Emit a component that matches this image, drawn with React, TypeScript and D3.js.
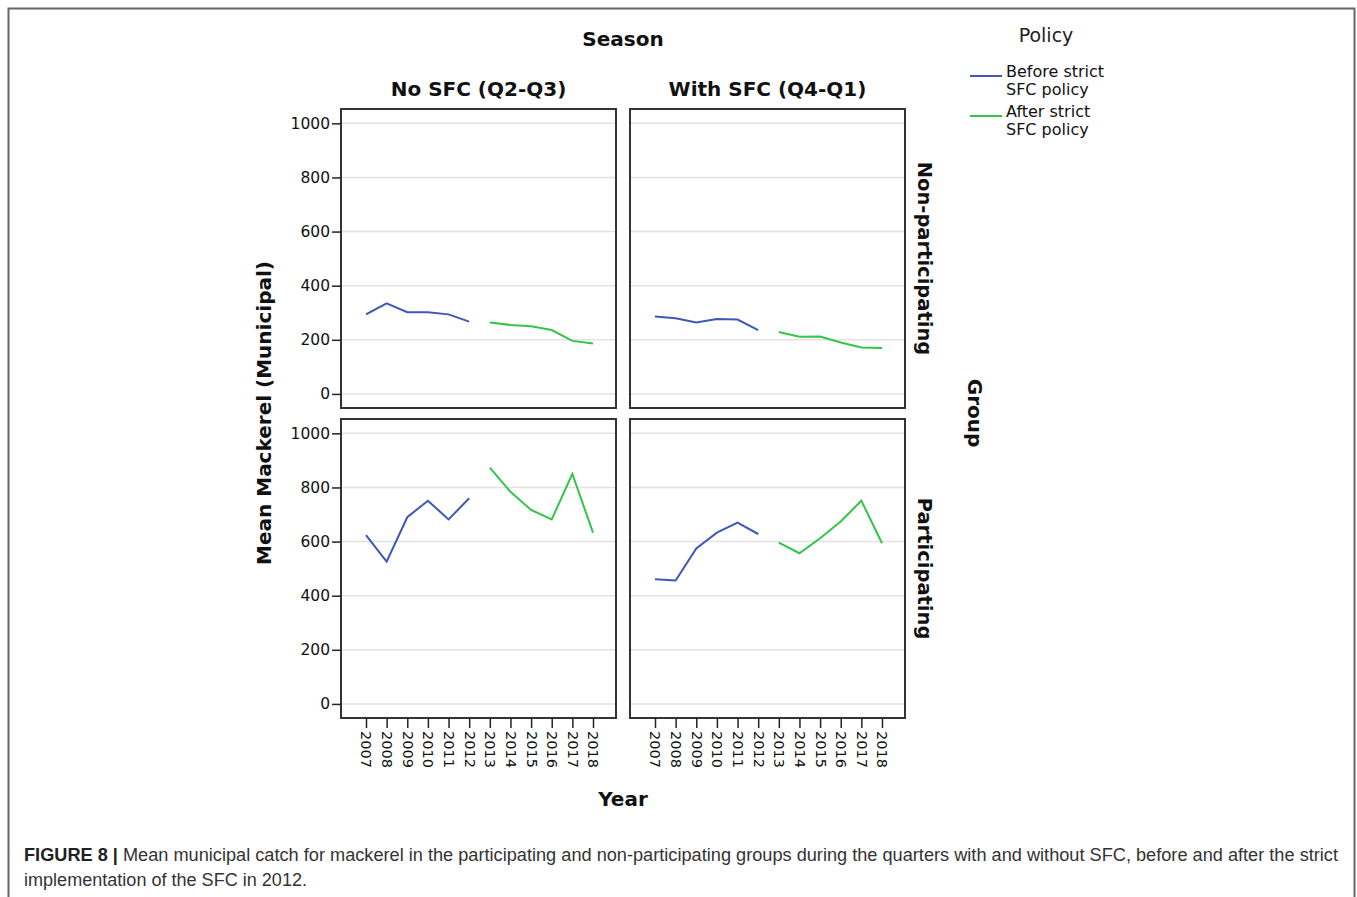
import React, { useRef, useEffect } from 'react'
import * as d3 from 'd3'

const years = ['2007', '2008', '2009', '2010', '2011', '2012', '2013', '2014', '2015', '2016', '2017', '2018']
const beforeYears = ['2007', '2008', '2009', '2010', '2011', '2012']
const afterYears = ['2013', '2014', '2015', '2016', '2017', '2018']
const seasons = ['No SFC (Q2-Q3)', 'With SFC (Q4-Q1)']
const groups = ['Non-participating', 'Participating']
const yTicks = [0, 200, 400, 600, 800, 1000]

// non-participating group
const nonPartNoSfcBefore = [294, 335, 302, 302, 294, 267]
const nonPartNoSfcAfter = [264, 255, 250, 236, 196, 186]
const nonPartWithSfcBefore = [286, 280, 264, 277, 275, 236]
const nonPartWithSfcAfter = [229, 211, 212, 190, 172, 170]

// participating group
const partNoSfcBefore = [624, 526, 690, 751, 682, 760]
const partNoSfcAfter = [873, 784, 717, 682, 850, 633]
const partWithSfcBefore = [461, 456, 575, 633, 670, 628]
const partWithSfcAfter = [596, 557, 612, 674, 751, 594]

const legendLabels = [['Before strict', 'SFC policy'], ['After strict', 'SFC policy']]

const BLUE = '#3f58b8'
const GREEN = '#34c449'
const colors = [BLUE, GREEN]

const panels = [
    { row: 0, col: 0, before: nonPartNoSfcBefore, after: nonPartNoSfcAfter },
    { row: 0, col: 1, before: nonPartWithSfcBefore, after: nonPartWithSfcAfter },
    { row: 1, col: 0, before: partNoSfcBefore, after: partNoSfcAfter },
    { row: 1, col: 1, before: partWithSfcBefore, after: partWithSfcAfter },
]

const colX = [341, 630]
const rowY = [109, 419]
const pw = 275
const ph = 299

const TICK_FONT = 'DejaVu Sans, Verdana, sans-serif'

export default function App() {
    const ref = useRef<SVGSVGElement>(null)

    useEffect(() => {
        const svg = d3.select(ref.current)
        svg.selectAll('*').remove()
        draw(svg)
    }, [])

    function draw(svg: any) {
        // outer frame
        svg.append('rect')
            .attr('x', 8.5).attr('y', 8.5)
            .attr('width', 1346).attr('height', 1000)
            .attr('fill', 'none').attr('stroke', '#666').attr('stroke-width', 2)

        const x = d3.scalePoint<string>().domain(years).range([25, 252])
        const y = d3.scaleLinear().domain([-52, 1053]).range([ph, 0])

        const line = d3.line<[string, number]>()
            .x((d) => x(d[0]) as number)
            .y((d) => y(d[1]))

        panels.forEach((p) => {
            const g = svg.append('g')
                .attr('transform', `translate(${colX[p.col]},${rowY[p.row]})`)

            // grid
            g.selectAll('line.grid')
                .data(yTicks)
                .join('line')
                .attr('class', 'grid')
                .attr('x1', 0).attr('x2', pw)
                .attr('y1', (d: number) => y(d)).attr('y2', (d: number) => y(d))
                .attr('stroke', '#e2e2e2').attr('stroke-width', 1.5)

            const series = [d3.zip(beforeYears, p.before), d3.zip(afterYears, p.after)]
            g.selectAll('path.series')
                .data(series)
                .join('path')
                .attr('class', 'series')
                .attr('d', (d: any) => line(d))
                .attr('fill', 'none')
                .attr('stroke', (d: any, i: number) => colors[i])
                .attr('stroke-width', 2)

            g.append('rect')
                .attr('width', pw).attr('height', ph)
                .attr('fill', 'none').attr('stroke', '#333').attr('stroke-width', 2)

            // y axis on left column
            if (p.col === 0) {
                const ya = g.append('g')
                    .call(d3.axisLeft(y).tickValues(yTicks).tickFormat(d3.format('d')).tickSize(9).tickPadding(2).tickSizeOuter(0))
                ya.select('.domain').remove()
                ya.selectAll('line').attr('stroke', '#222').attr('stroke-width', 1.5)
                ya.selectAll('text')
                    .attr('font-family', TICK_FONT).attr('font-size', 15.5).attr('fill', '#111')
            }

            // x axis on bottom row
            if (p.row === 1) {
                const xa = g.append('g')
                    .attr('transform', `translate(0,${ph})`)
                    .call(d3.axisBottom(x).tickSize(10).tickSizeOuter(0))
                xa.select('.domain').remove()
                xa.selectAll('line').attr('stroke', '#222').attr('stroke-width', 1.5)
                xa.selectAll('text')
                    .attr('font-family', TICK_FONT).attr('font-size', 14.5).attr('fill', '#111')
                    .attr('transform', 'rotate(90)')
                    .attr('text-anchor', 'start')
                    .attr('x', 13).attr('y', 0).attr('dy', '0.35em')
            }
        })

        const bold = (t: string, tx: number, ty: number, rot = 0, size = 20) =>
            svg.append('text')
                .attr('transform', `translate(${tx},${ty}) rotate(${rot})`)
                .attr('text-anchor', 'middle')
                .attr('font-family', TICK_FONT).attr('font-weight', 'bold')
                .attr('font-size', size).attr('fill', '#111')
                .text(t)

        bold('Season', 623, 46)
        seasons.forEach((s, i) => bold(s, colX[i] + pw / 2, 96, 0, 20))
        groups.forEach((gname, i) => bold(gname, 918, rowY[i] + ph / 2, 90, 19.5))
        bold('Group', 968, 413, 90)
        bold('Mean Mackerel (Municipal)', 271, 413, -90)
        bold('Year', 623, 806)

        // legend
        svg.append('text')
            .attr('x', 1046).attr('y', 42).attr('text-anchor', 'middle')
            .attr('font-family', TICK_FONT).attr('font-size', 19).attr('fill', '#222')
            .text('Policy')
        legendLabels.forEach((lbl, i) => {
            const ly = 76 + i * 40
            svg.append('line')
                .attr('x1', 970).attr('x2', 1002).attr('y1', ly).attr('y2', ly)
                .attr('stroke', colors[i]).attr('stroke-width', 2)
            const t = svg.append('text')
                .attr('font-family', TICK_FONT).attr('font-size', 16).attr('fill', '#111')
            lbl.forEach((s, j) => {
                t.append('tspan').attr('x', 1006).attr('y', ly + 1 + j * 18).text(s)
            })
        })

        // caption
        const cap = svg.append('text')
            .attr('x', 24).attr('y', 861)
            .attr('font-family', 'Liberation Sans, Arial, sans-serif').attr('font-size', 17.5)
            .attr('fill', '#333')
            .attr('textLength', 1314).attr('lengthAdjust', 'spacingAndGlyphs')
        cap.append('tspan').attr('font-weight', 'bold').attr('fill', '#222').text('FIGURE 8 |')
        cap.append('tspan').text(' Mean municipal catch for mackerel in the participating and non-participating groups during the quarters with and without SFC, before and after the strict')
        svg.append('text')
            .attr('x', 24).attr('y', 886)
            .attr('font-family', 'Liberation Sans, Arial, sans-serif').attr('font-size', 17.5)
            .attr('fill', '#333')
            .attr('textLength', 283).attr('lengthAdjust', 'spacingAndGlyphs')
            .text('implementation of the SFC in 2012.')
    }

    return (
        <svg
            ref={ref}
            width={1357}
            height={897}
            style={{ position: 'absolute', left: 0, top: 0, background: '#fff' }}
        ></svg>
    )
}
